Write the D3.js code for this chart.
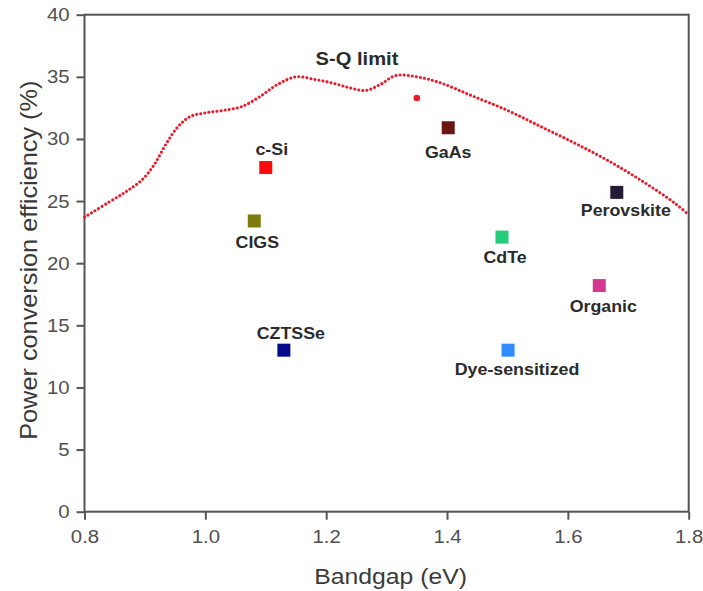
<!DOCTYPE html>
<html>
<head>
<meta charset="utf-8">
<script src="https://cdn.jsdelivr.net/npm/d3@7"></script>
<style>
  html, body { margin: 0; padding: 0; background: #fff; }
  svg { display: block; font-family: "Liberation Sans", Arial, sans-serif; }
</style>
</head>
<body>
<svg id="chart" width="703" height="591"></svg>
<script>
// Solar cell technologies: bandgap (eV) and record efficiency (%)
const cells = ["c-Si", "CIGS", "CZTSSe", "GaAs", "CdTe", "Perovskite", "Organic", "Dye-sensitized"];
const bandgap = [1.100, 1.081, 1.130, 1.402, 1.491, 1.681, 1.652, 1.501];
const efficiency = [27.7, 23.4, 13.0, 30.9, 22.1, 25.7, 18.2, 13.0];

// Shockley–Queisser limit curve
const sqBandgap = [0.80, 0.84, 0.87, 0.895, 0.915, 0.935, 0.955, 0.975, 1.00, 1.03, 1.06, 1.09, 1.12, 1.15, 1.18, 1.21, 1.24, 1.265, 1.29, 1.315, 1.35, 1.39, 1.44, 1.50, 1.555, 1.61, 1.665, 1.72, 1.775, 1.80];
const sqEfficiency = [23.7, 24.9, 25.8, 26.7, 27.9, 29.6, 31.0, 31.8, 32.1, 32.3, 32.6, 33.4, 34.4, 35.0, 34.8, 34.5, 34.1, 33.9, 34.4, 35.1, 35.0, 34.5, 33.5, 32.3, 31.0, 29.7, 28.3, 26.7, 24.9, 23.9];

// Single highlighted point just under the limit
const markerPoint = [1.35, 33.3];

const xTicks = [0.8, 1.0, 1.2, 1.4, 1.6, 1.8];
const yTicks = [0, 5, 10, 15, 20, 25, 30, 35, 40];

// Styling
const cellColors = {
  "c-Si": "#ff0a0a",
  "CIGS": "#7d7d0e",
  "CZTSSe": "#050a8a",
  "GaAs": "#6c1414",
  "CdTe": "#22cc78",
  "Perovskite": "#251b35",
  "Organic": "#d5388f",
  "Dye-sensitized": "#2f8dfb"
};
// Label offsets (px) from each marker: dx, baseline dy
const labelOffsets = {
  "c-Si": [6, -13],
  "CIGS": [3, 27],
  "CZTSSe": [7, -11],
  "GaAs": [0, 30],
  "CdTe": [3, 26],
  "Perovskite": [9, 24],
  "Organic": [4, 26],
  "Dye-sensitized": [9, 25]
};
const WIDEN = 1.1;   // horizontal widening applied to all text
const axisColor = "#555";
const tickTextColor = "#505050";
const labelColor = "#2b2b2b";
const curveColor = "#ea1c2c";

const svg = d3.select("#chart");
const margin = { left: 84.5, right: 703 - 688.7, top: 14.7, bottom: 591 - 511.7 };
const W = 703, H = 591;

const x = d3.scaleLinear().domain([0.8, 1.8]).range([margin.left, W - margin.right]);
const y = d3.scaleLinear().domain([0, 40]).range([H - margin.bottom, margin.top]);

// Axes
const xAxis = d3.axisBottom(x).tickValues(xTicks).tickFormat(d3.format(".1f"))
  .tickSize(8).tickPadding(10);
const yAxis = d3.axisLeft(y).tickValues(yTicks).tickFormat(d3.format("d"))
  .tickSize(8).tickPadding(7);

const gx = svg.append("g").attr("transform", `translate(0,${y(0)})`).call(xAxis);
const gy = svg.append("g").attr("transform", `translate(${x(0.8)},0)`).call(yAxis);

[gx, gy].forEach(g => {
  g.select(".domain").remove();
  g.selectAll(".tick line").attr("stroke", axisColor).attr("stroke-width", 2);
  g.selectAll(".tick text")
    .attr("fill", tickTextColor)
    .style("font-size", "18.5px")
    .style("font-family", "'Liberation Sans', Arial, sans-serif");
});
gx.selectAll(".tick text").attr("transform", `scale(${WIDEN},1)`);
gy.selectAll(".tick text").attr("transform", `scale(${WIDEN},1)`).attr("x", -15 / WIDEN);

// Plot frame
svg.append("rect")
  .attr("x", x(0.8)).attr("y", y(40))
  .attr("width", x(1.8) - x(0.8)).attr("height", y(0) - y(40))
  .attr("fill", "none").attr("stroke", axisColor).attr("stroke-width", 2);

// Axis titles
svg.append("text")
  .attr("transform", `translate(${(x(0.8) + x(1.8)) / 2 + 4},584) scale(${WIDEN},1)`)
  .attr("text-anchor", "middle")
  .attr("fill", "#3a3a3a")
  .style("font-size", "22.5px")
  .text("Bandgap (eV)");

svg.append("text")
  .attr("transform", `translate(37,${(y(0) + y(40)) / 2 - 3}) rotate(-90) scale(${WIDEN},1)`)
  .attr("text-anchor", "middle")
  .attr("fill", "#3a3a3a")
  .style("font-size", "23px")
  .text("Power conversion efficiency (%)");

// S-Q limit curve (dotted)
const sq = sqBandgap.map((b, i) => [b, sqEfficiency[i]]);
const line = d3.line().x(d => x(d[0])).y(d => y(d[1])).curve(d3.curveCatmullRom.alpha(0.5));
svg.append("path")
  .datum(sq)
  .attr("d", line)
  .attr("fill", "none")
  .attr("stroke", curveColor)
  .attr("stroke-width", 3)
  .attr("stroke-linecap", "round")
  .attr("stroke-dasharray", "0.1 4");

svg.append("text")
  .attr("transform", `translate(${x(1.251)},${y(35.95)}) scale(1.12,1)`)
  .attr("text-anchor", "middle")
  .attr("fill", labelColor)
  .style("font-size", "18px")
  .style("font-weight", "bold")
  .text("S-Q limit");

svg.append("circle")
  .attr("cx", x(markerPoint[0])).attr("cy", y(markerPoint[1]))
  .attr("r", 3.3).attr("fill", curveColor);

// Cell markers and labels
const data = cells.map((c, i) => ({ name: c, bg: bandgap[i], eff: efficiency[i] }));
const sz = 13;
const pts = svg.append("g").selectAll("g").data(data).join("g");
pts.append("rect")
  .attr("x", d => x(d.bg) - sz / 2)
  .attr("y", d => y(d.eff) - sz / 2)
  .attr("width", sz).attr("height", sz)
  .attr("fill", d => cellColors[d.name]);
pts.append("text")
  .attr("transform", d => `translate(${x(d.bg) + labelOffsets[d.name][0]},${y(d.eff) + labelOffsets[d.name][1]}) scale(1.08,1)`)
  .attr("text-anchor", "middle")
  .attr("fill", labelColor)
  .style("font-size", "16.5px")
  .style("font-weight", "bold")
  .text(d => d.name);
</script>
</body>
</html>
